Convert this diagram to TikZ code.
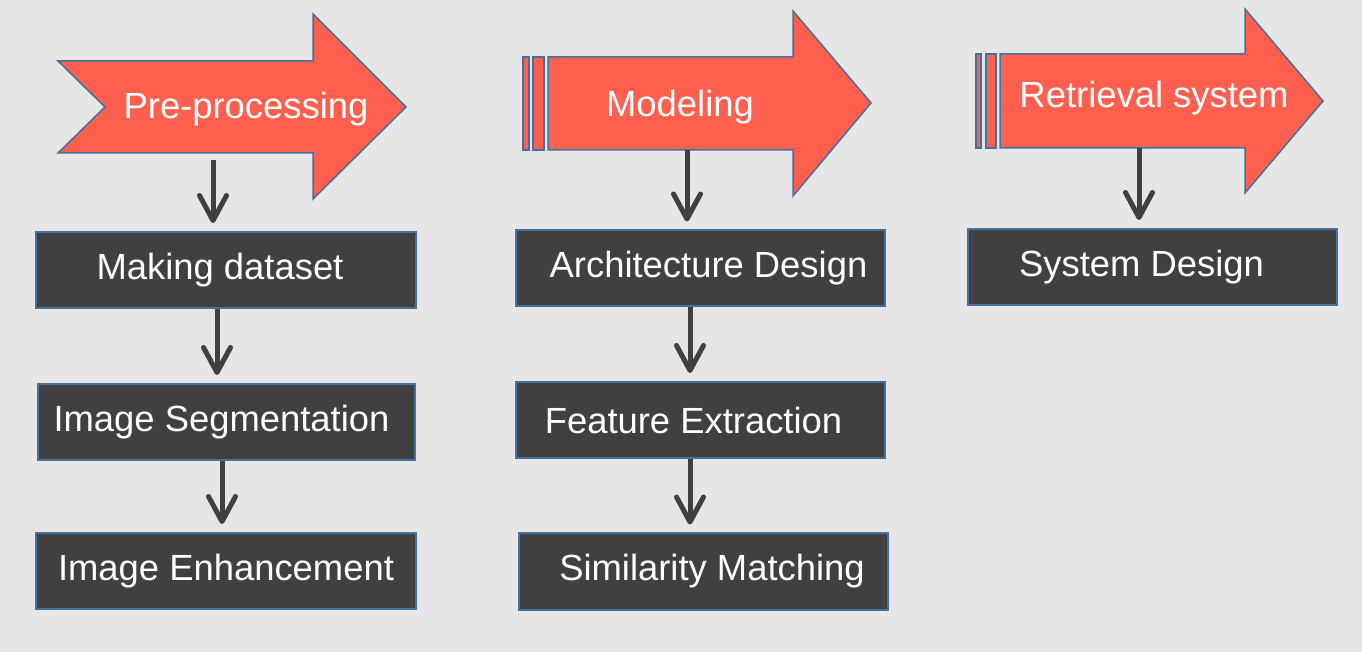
\documentclass[tikz,border=0pt]{standalone}
\usepackage{fontspec}
\setmainfont{Liberation Sans}
\usetikzlibrary{arrows.meta}
\definecolor{bgGray}{HTML}{E6E6E6}
\definecolor{sCoral}{HTML}{FF5F4F}
\definecolor{sEdge}{HTML}{41719C}
\definecolor{sDark}{HTML}{404040}
\begin{document}
\begin{tikzpicture}[x=0.5pt,y=-0.5pt,>={Straight Barb[length=12.5pt,width=13.5pt,round]}]
		\tikzstyle{banner} = [fill=sCoral, draw=sEdge, line width=0.75pt, line join=miter]
		\tikzstyle{title} = [text=white, font=\fontsize{18.2}{22}\selectfont, anchor=base, inner sep=0pt]
		\tikzstyle{stage} = [fill=sDark, draw=sEdge, line width=1pt, text=white, font=\fontsize{18.2}{22}\selectfont, minimum height=38pt]
		\tikzstyle{flow} = [->, draw=sDark, line width=2.5pt, shorten >=4pt]

		\fill[bgGray] (0,0) rectangle (1362,652);
		\useasboundingbox (0,0) rectangle (1362,652);

		% pre-processing
		\draw[banner] (58,61) -- (313,61) -- (313,14) -- (406,107) -- (313,199) -- (313,153) -- (58,153) -- (105,107) -- cycle;
		\node[title] (pre) at (246,119) {Pre-processing};
		\coordinate (preS) at (213,160);
		\node[stage, minimum width=190pt] (mkd) at (226,270) {Making dataset\hspace*{6pt}};
		\node[stage, minimum width=188.5pt] (seg) at (226.5,422) {Image Segmentation\hspace*{5pt}};
		\node[stage, minimum width=190pt] (enh) at (226,571) {Image Enhancement};
		\draw[flow] (preS) -- (preS |- mkd.north);
		\draw[flow] ([xshift=-4.5pt]mkd.south) -- ([xshift=-4.5pt]mkd.south |- seg.north);
		\draw[flow] ([xshift=-2.25pt]seg.south) -- ([xshift=-2.25pt]seg.south |- enh.north);

		% modeling
		\draw[banner] (523,57) rectangle (529,150);
		\draw[banner] (533,57) rectangle (544,150);
		\draw[banner] (548,57) -- (793,57) -- (793,11) -- (871,103) -- (793,196) -- (793,150) -- (548,150) -- cycle;
		\node[title] (mdl) at (680,117) {Modeling};
		\coordinate (mdlS) at (687,150);
		\node[stage, minimum width=184.5pt] (arc) at (700.5,268.5) {\hspace*{8pt}Architecture Design};
		\node[stage, minimum width=184.5pt] (fex) at (700.5,420) {Feature Extraction\hspace*{7pt}};
		\node[stage, minimum width=184.5pt] (sim) at (703,571.5) {\hspace*{9pt}Similarity Matching};
		\draw[flow] (mdlS) -- (mdlS |- arc.north);
		\draw[flow] ([xshift=-5.25pt]arc.south) -- ([xshift=-5.25pt]arc.south |- fex.north);
		\draw[flow] ([xshift=-5.25pt]fex.south) -- ([xshift=-5.25pt]fex.south |- sim.north);

		% retrieval system
		\draw[banner] (976,54) rectangle (981,148);
		\draw[banner] (986,54) rectangle (996,148);
		\draw[banner] (1000,54) -- (1245,54) -- (1245,9) -- (1323,101) -- (1245,193) -- (1245,148) -- (1000,148) -- cycle;
		\node[title] (ret) at (1154,108) {Retrieval system};
		\coordinate (retS) at (1139,148);
		\node[stage, minimum width=184.5pt] (sys) at (1152.5,267) {System Design\hspace*{11pt}};
		\draw[flow] (retS) -- (retS |- sys.north);
\end{tikzpicture}
\end{document}
